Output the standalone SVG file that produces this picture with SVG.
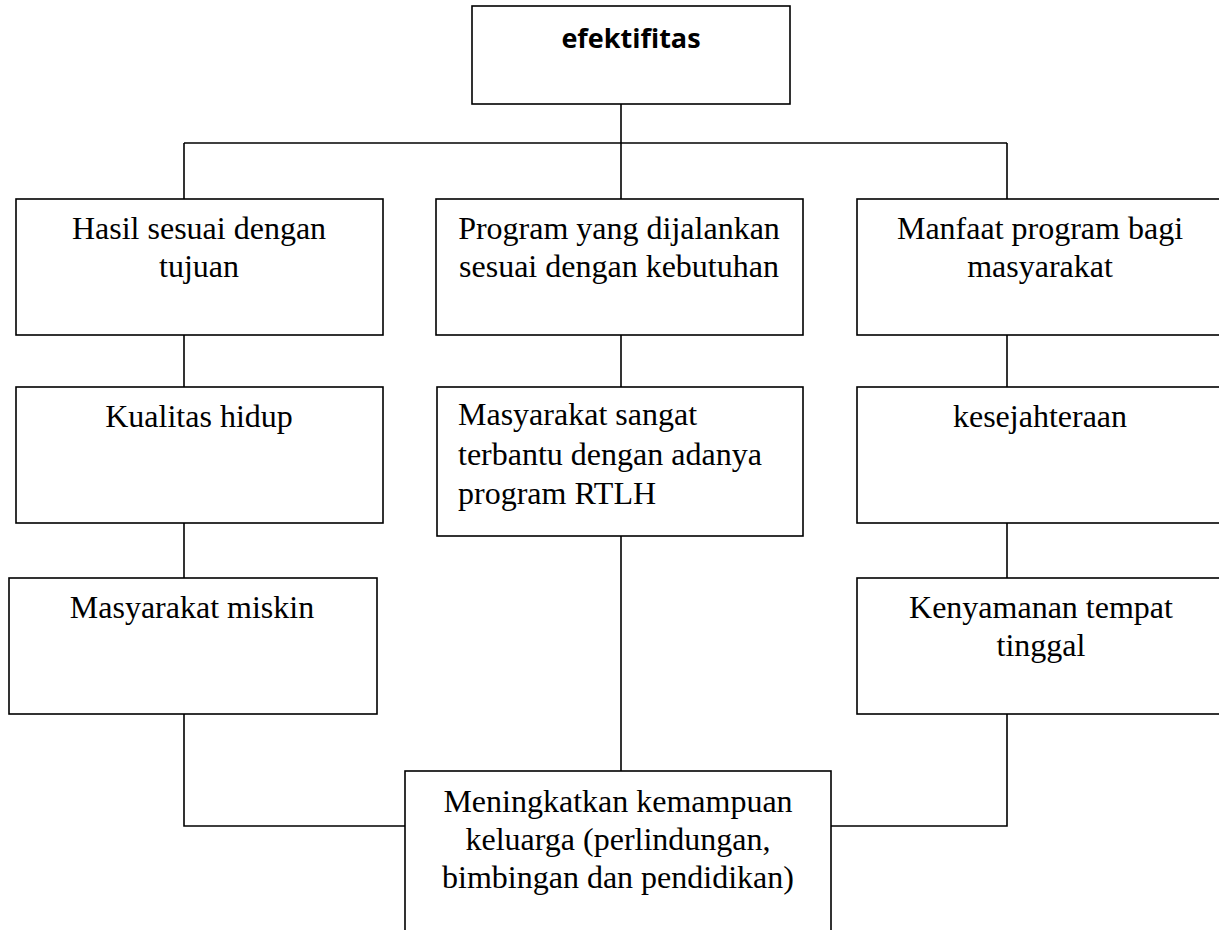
<svg xmlns="http://www.w3.org/2000/svg" width="1219" height="930" viewBox="0 0 1219 930">
<style>
.box{fill:#fff;stroke:#000;stroke-width:1.6}
.t{font-family:"Liberation Serif","Times New Roman",serif;font-size:32px;fill:#000;text-anchor:middle}
.tl{font-family:"Liberation Serif","Times New Roman",serif;font-size:32px;fill:#000}
.h{font-family:"Open Sans","Liberation Sans",sans-serif;font-size:27px;font-weight:bold;fill:#000;text-anchor:middle}
.c{fill:none;stroke:#000;stroke-width:1.6}
</style>
<rect width="1219" height="930" fill="#fff"/>
<g id="connectors">
<line class="c" x1="621" y1="104" x2="621" y2="143"/>
<line class="c" x1="184" y1="143" x2="1007" y2="143"/>
<line class="c" x1="184" y1="143" x2="184" y2="199"/>
<line class="c" x1="621" y1="143" x2="621" y2="199"/>
<line class="c" x1="1007" y1="143" x2="1007" y2="199"/>
<line class="c" x1="184" y1="335" x2="184" y2="387"/>
<line class="c" x1="621" y1="335" x2="621" y2="387"/>
<line class="c" x1="1007" y1="335" x2="1007" y2="387"/>
<line class="c" x1="184" y1="523" x2="184" y2="578"/>
<line class="c" x1="1007" y1="523" x2="1007" y2="578"/>
<polyline class="c" points="184,714 184,826 405,826"/>
<polyline class="c" points="1007,714 1007,826 831,826"/>
<line class="c" x1="621" y1="536" x2="621" y2="771"/>
</g>
<g id="efektifitas">
<rect class="box" x="472" y="6" width="318" height="98"/>
<text class="h" x="631" y="48">efektifitas</text>
</g>
<g id="hasil">
<rect class="box" x="16" y="199" width="367" height="136"/>
<text class="t" x="199" y="239">Hasil sesuai dengan</text>
<text class="t" x="199" y="277">tujuan</text>
</g>
<g id="program">
<rect class="box" x="436" y="199" width="367" height="136"/>
<text class="t" x="619" y="239">Program yang dijalankan</text>
<text class="t" x="619" y="277">sesuai dengan kebutuhan</text>
</g>
<g id="manfaat">
<rect class="box" x="857" y="199" width="370" height="136"/>
<text class="t" x="1040" y="239">Manfaat program bagi</text>
<text class="t" x="1040" y="277">masyarakat</text>
</g>
<g id="kualitas">
<rect class="box" x="16" y="387" width="367" height="136"/>
<text class="t" x="199" y="427">Kualitas hidup</text>
</g>
<g id="terbantu">
<rect class="box" x="437" y="387" width="366" height="149"/>
<text class="tl" x="458" y="425">Masyarakat sangat</text>
<text class="tl" x="458" y="465">terbantu dengan adanya</text>
<text class="tl" x="458" y="504">program RTLH</text>
</g>
<g id="kesejahteraan">
<rect class="box" x="857" y="387" width="370" height="136"/>
<text class="t" x="1040" y="427">kesejahteraan</text>
</g>
<g id="miskin">
<rect class="box" x="9" y="578" width="368" height="136"/>
<text class="t" x="192" y="618">Masyarakat miskin</text>
</g>
<g id="kenyamanan">
<rect class="box" x="857" y="578" width="370" height="136"/>
<text class="t" x="1041" y="618">Kenyamanan tempat</text>
<text class="t" x="1041" y="656">tinggal</text>
</g>
<g id="meningkatkan">
<rect class="box" x="405" y="771" width="426" height="170"/>
<text class="t" x="618" y="812">Meningkatkan kemampuan</text>
<text class="t" x="618" y="850">keluarga (perlindungan,</text>
<text class="t" x="618" y="888">bimbingan dan pendidikan)</text>
</g>
</svg>
